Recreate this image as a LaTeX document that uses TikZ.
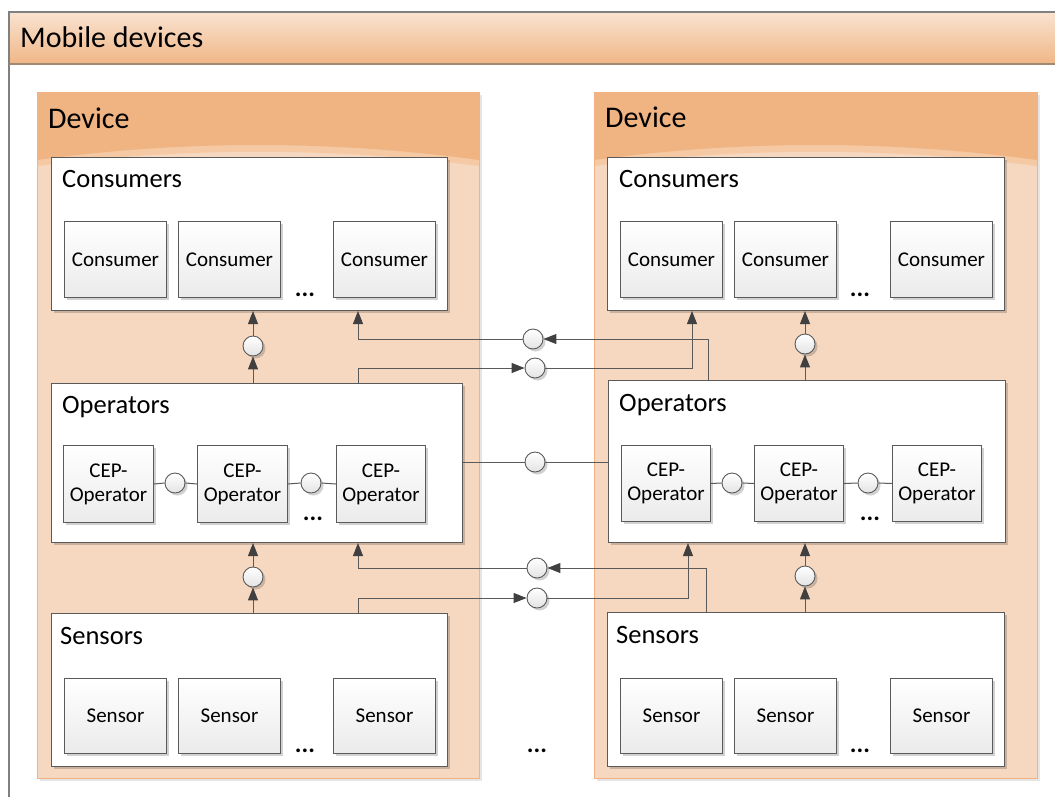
\documentclass[tikz,border=0pt]{standalone}
\usepackage{fontspec}
\setmainfont{Carlito}
\usetikzlibrary{arrows.meta,shadows}

\definecolor{linegray}{HTML}{5A5A5A}
\definecolor{tipgray}{HTML}{404040}
\definecolor{framegray}{HTML}{808080}
\definecolor{framebrown}{HTML}{A08A74}
\definecolor{bartop}{HTML}{F9E3D1}
\definecolor{barbot}{HTML}{F0B686}
\definecolor{devhead}{HTML}{F0B482}
\definecolor{devband}{HTML}{F5C9A4}
\definecolor{devbody}{HTML}{F6D8C1}
\definecolor{devedge}{HTML}{F4B183}

\tikzset{
  softshadow/.style={drop shadow={shadow xshift=2.5pt,shadow yshift=-2.5pt,opacity=0.18,fill=black}},
  grp/.style={draw=linegray, line width=1pt, fill=white, anchor=north west,
    inner sep=0pt, softshadow},
  unit/.style={draw=linegray, line width=1pt, top color=white, bottom color=black!8,
    anchor=north west, inner sep=0pt, align=center,
    font=\fontsize{21}{24}\selectfont, softshadow},
  port/.style={circle, draw=linegray, line width=0.9pt, minimum size=20pt, inner sep=0pt,
    top color=white, bottom color=black!11, softshadow},
  grptitle/.style={anchor=base west, inner sep=0pt, font=\fontsize{26.5}{31}\selectfont},
  devtitle/.style={anchor=base west, inner sep=0pt, font=\fontsize{30}{35}\selectfont},
  dots/.style={anchor=base, font=\bfseries\fontsize{25}{30}\selectfont},
  wire/.style={draw=linegray, line width=1pt},
  arr/.style={wire, -{Triangle[length=13pt,width=10pt,color=tipgray]}},
}

% a device panel: lower-left shadow, body, lighter wave band and the header
\newcommand{\devpanel}[2]{% #1 = left x, #2 = right x
  \fill[black!10] (#1+3,95) rectangle (#2+3,781);
  \fill[devbody] (#1,92) rectangle (#2,778);
  \fill[devband] (#1,92) -- (#2,92) -- (#2,166)
     .. controls ({#2-(#2-#1)/3},147) and ({#1+(#2-#1)/3},147) .. (#1,166) -- cycle;
  \fill[devhead] (#1,92) -- (#2,92) -- (#2,160)
     .. controls ({#2-(#2-#1)/3},140) and ({#1+(#2-#1)/3},140) .. (#1,160) -- cycle;
  \draw[devedge, line width=0.8pt] (#1,92) rectangle (#2,778);
}

\begin{document}
\begin{tikzpicture}[x=1pt,y=-1pt]
\useasboundingbox (0,0) rectangle (1055,796);
\clip (0,0) rectangle (1055,796);

% outer frame with its header bar
\fill[top color=bartop, bottom color=barbot] (9,12) rectangle (1070,64);
\draw[framegray, line width=1.2pt] (9,810) -- (9,12) -- (1070,12);
\draw[framebrown, line width=1.2pt] (9,64) -- (1070,64);
\node[anchor=base west, inner sep=0pt, font=\fontsize{30}{35}\selectfont] (mtitle) at (20,47) {Mobile devices};

% the two devices
\devpanel{37}{479}
\devpanel{594}{1037}
\node[devtitle] (ldev) at (48,128) {Device};
\node[devtitle] (rdev) at (605,127) {Device};

% ---------- left device ----------
\node[grp, minimum width=396pt, minimum height=153pt] (lcons) at (51,157) {};
\node[grptitle] (lconsT) at (62,187) {Consumers};
\node[unit, minimum width=102pt, minimum height=76pt] (lc1) at (64,221) {Consumer};
\node[unit, minimum width=102pt, minimum height=76pt] (lc2) at (178,221) {Consumer};
\node[unit, minimum width=102pt, minimum height=76pt] (lc3) at (333,221) {Consumer};
\node[dots] (lcd) at (305,296) {...};

\node[grp, minimum width=411pt, minimum height=159pt] (lops) at (51,383) {};
\node[grptitle] (lopsT) at (62,413) {Operators};
\node[unit, minimum width=90pt, minimum height=77pt] (lo1) at (63,445) {CEP-\\Operator};
\node[unit, minimum width=90pt, minimum height=77pt] (lo2) at (197,445) {CEP-\\Operator};
\node[unit, minimum width=89pt, minimum height=77pt] (lo3) at (336,445) {CEP-\\Operator};
\node[dots] (lod) at (313,520) {...};
\node[port] (lq1) at (175,483) {};
\node[port] (lq2) at (311,483) {};

\node[grp, minimum width=396pt, minimum height=153pt] (lsen) at (51,613) {};
\node[grptitle] (lsenT) at (60,644) {Sensors};
\node[unit, minimum width=102pt, minimum height=75pt] (ls1) at (64,678) {Sensor};
\node[unit, minimum width=102pt, minimum height=75pt] (ls2) at (178,678) {Sensor};
\node[unit, minimum width=102pt, minimum height=75pt] (ls3) at (333,678) {Sensor};
\node[dots] (lsd) at (305,752) {...};

\node[port] (lp1) at (253,346) {};
\node[port] (lp2) at (253,577) {};

% ---------- right device ----------
\node[grp, minimum width=397pt, minimum height=153pt] (rcons) at (607,157) {};
\node[grptitle] (rconsT) at (619,187) {Consumers};
\node[unit, minimum width=102pt, minimum height=76pt] (rc1) at (620,221) {Consumer};
\node[unit, minimum width=102pt, minimum height=76pt] (rc2) at (734,221) {Consumer};
\node[unit, minimum width=102pt, minimum height=76pt] (rc3) at (890,221) {Consumer};
\node[dots] (rcd) at (860,296) {...};

\node[grp, minimum width=397pt, minimum height=162pt] (rops) at (608,380) {};
\node[grptitle] (ropsT) at (619,411) {Operators};
\node[unit, minimum width=89pt, minimum height=76pt] (ro1) at (621,445) {CEP-\\Operator};
\node[unit, minimum width=89pt, minimum height=76pt] (ro2) at (754,445) {CEP-\\Operator};
\node[unit, minimum width=89pt, minimum height=76pt] (ro3) at (892,445) {CEP-\\Operator};
\node[dots] (rod) at (870,520) {...};
\node[port] (rq1) at (732,483) {};
\node[port] (rq2) at (868,483) {};

\node[grp, minimum width=397pt, minimum height=154pt] (rsen) at (607,612) {};
\node[grptitle] (rsenT) at (616,643) {Sensors};
\node[unit, minimum width=102pt, minimum height=75pt] (rs1) at (620,678) {Sensor};
\node[unit, minimum width=102pt, minimum height=75pt] (rs2) at (734,678) {Sensor};
\node[unit, minimum width=102pt, minimum height=75pt] (rs3) at (890,678) {Sensor};
\node[dots] (rsd) at (860,752) {...};

\node[port] (rp1) at (805,344) {};
\node[port] (rp2) at (805,576) {};

\node[dots] (md) at (537,752) {...};

% ---------- links inside the operator groups ----------
\draw[wire] (lo1.east) -- (lq1.west) (lq1.east) -- (lo2.west);
\draw[wire] (lo2.east) -- (lq2.west) (lq2.east) -- (lo3.west);
\draw[wire] (ro1.east) -- (rq1.west) (rq1.east) -- (ro2.west);
\draw[wire] (ro2.east) -- (rq2.west) (rq2.east) -- (ro3.west);

% ---------- vertical flows within each device ----------
\draw[arr] (lops.north -| lp1) -- (lp1.south);
\draw[arr] (lp1.north) -- (lcons.south -| lp1);
\draw[arr] (lsen.north -| lp2) -- (lp2.south);
\draw[arr] (lp2.north) -- (lops.south -| lp2);
\draw[arr] (rops.north -| rp1) -- (rp1.south);
\draw[arr] (rp1.north) -- (rcons.south -| rp1);
\draw[arr] (rsen.north -| rp2) -- (rp2.south);
\draw[arr] (rp2.north) -- (rops.south -| rp2);

% ---------- flows between the devices ----------
\node[port] (x1) at (533,339) {};
\node[port] (x2) at (535,368) {};
\node[port] (x3) at (535,462) {};
\node[port] (x4) at (537,568) {};
\node[port] (x5) at (537,598) {};

\coordinate (k1) at (708,339);
\coordinate (k2) at (358,339);
\coordinate (k3) at (358,368);
\coordinate (k4) at (692,368);
\coordinate (k5) at (706,568);
\coordinate (k6) at (358,568);
\coordinate (k7) at (358,598);
\coordinate (k8) at (688,598);

\draw[arr] (rops.north -| k1) -- (k1) -- (x1.east);
\draw[arr] (x1.west) -- (k2) -- (k2 |- lcons.south);
\draw[arr] (lops.north -| k3) -- (k3) -- (x2.west);
\draw[arr] (x2.east) -- (k4) -- (k4 |- rcons.south);

\draw[wire] (lops.east |- x3) -- (x3.west);
\draw[wire] (x3.east) -- (rops.west |- x3);

\draw[arr] (rsen.north -| k5) -- (k5) -- (x4.east);
\draw[arr] (x4.west) -- (k6) -- (k6 |- lops.south);
\draw[arr] (lsen.north -| k7) -- (k7) -- (x5.west);
\draw[arr] (x5.east) -- (k8) -- (k8 |- rops.south);

\end{tikzpicture}
\end{document}
